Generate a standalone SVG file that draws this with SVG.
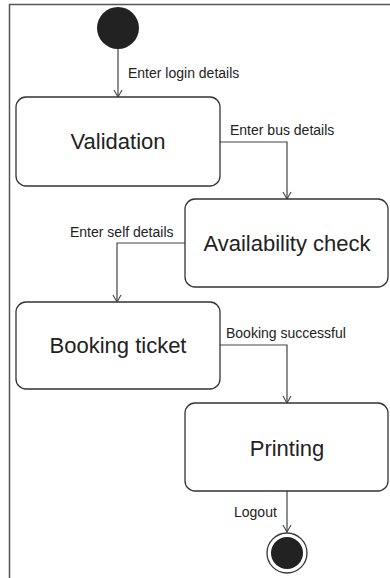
<svg xmlns="http://www.w3.org/2000/svg" width="390" height="578" viewBox="0 0 390 578">
<style>
.state{fill:#fff;stroke:#333;stroke-width:1.3}
.name{font-family:"Liberation Sans",Arial,sans-serif;font-size:22px;fill:#222;text-anchor:middle}
.lbl{font-family:"Liberation Sans",Arial,sans-serif;font-size:14px;fill:#222}
.edge{fill:none;stroke:#444;stroke-width:1.2}
</style>
<defs>
<marker id="arr" markerWidth="10" markerHeight="10" refX="8" refY="5" orient="auto" markerUnits="userSpaceOnUse">
<path d="M1,1 L8,5 L1,9" fill="none" stroke="#444" stroke-width="1.1"/>
</marker>
</defs>
<rect x="0" y="0" width="390" height="578" fill="#fff"/>
<path d="M9.5,578 V4.5 H390" fill="none" stroke="#555" stroke-width="1.5"/>
<g id="connectors">
<path class="edge" d="M118,49 V97" marker-end="url(#arr)"/>
<path class="edge" d="M220,142 H287 V199" marker-end="url(#arr)"/>
<path class="edge" d="M185,243 H117 V302" marker-end="url(#arr)"/>
<path class="edge" d="M220,345 H287 V403" marker-end="url(#arr)"/>
<path class="edge" d="M287,491 V532" marker-end="url(#arr)"/>
<text class="lbl" x="128" y="78">Enter login details</text>
<text class="lbl" x="230" y="135">Enter bus details</text>
<text class="lbl" x="70" y="237">Enter self details</text>
<text class="lbl" x="226" y="338">Booking successful</text>
<text class="lbl" x="234" y="517">Logout</text>
</g>
<g id="initial"><circle cx="118" cy="28" r="21" fill="#222"/></g>
<g id="validation"><rect class="state" x="16" y="97" width="204" height="89" rx="10"/><text class="name" x="118" y="149">Validation</text></g>
<g id="availability"><rect class="state" x="185" y="199" width="203" height="88" rx="10"/><text class="name" x="287" y="251">Availability check</text></g>
<g id="booking"><rect class="state" x="16" y="302" width="204" height="87" rx="10"/><text class="name" x="118" y="353">Booking ticket</text></g>
<g id="printing"><rect class="state" x="185" y="403" width="203" height="88" rx="10"/><text class="name" x="287" y="456">Printing</text></g>
<g id="final"><circle cx="287" cy="553" r="20" fill="#fff" stroke="#333" stroke-width="1.3"/><circle cx="287" cy="553" r="16" fill="#222"/></g>
</svg>
